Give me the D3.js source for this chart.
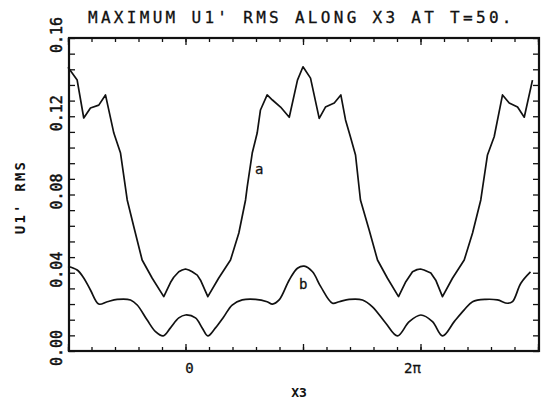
<!DOCTYPE html>
<html>
<head>
<meta charset="utf-8">
<script src="https://cdn.jsdelivr.net/npm/d3@7"></script>
<style>
  html, body { margin: 0; padding: 0; background: #fff; }
  svg { display: block; }
  text { font-family: "DejaVu Sans Mono", "Liberation Mono", monospace; fill: #111; }
</style>
</head>
<body>
<svg id="chart" width="544" height="405"></svg>
<script>
// x in units of pi
const xA = [-1.0, -0.922, -0.866, -0.809, -0.738, -0.681, -0.610, -0.553, -0.496, -0.440, -0.369, -0.283, -0.185, -0.128, -0.100, -0.057, -0.028, 0.0, 0.028, 0.057, 0.100, 0.128, 0.190, 0.283, 0.383, 0.454, 0.511, 0.525, 0.568, 0.610, 0.638, 0.695, 0.740, 0.809, 0.883, 0.953, 1.0, 1.064, 1.138, 1.191, 1.266, 1.322, 1.362, 1.404, 1.447, 1.489, 1.563, 1.634, 1.719, 1.813, 1.875, 1.932, 1.970, 2.0, 2.030, 2.088, 2.130, 2.187, 2.272, 2.372, 2.443, 2.513, 2.570, 2.627, 2.698, 2.755, 2.826, 2.883, 2.953];
const yA = [0.1450, 0.1385, 0.1191, 0.1242, 0.1257, 0.1309, 0.1114, 0.1012, 0.0772, 0.0635, 0.0465, 0.0372, 0.0278, 0.0350, 0.0377, 0.0405, 0.0414, 0.0419, 0.0414, 0.0405, 0.0388, 0.0362, 0.0278, 0.0373, 0.0465, 0.0603, 0.0772, 0.0838, 0.1012, 0.1114, 0.1232, 0.1309, 0.1283, 0.1247, 0.1195, 0.1385, 0.1453, 0.1395, 0.1189, 0.1247, 0.1268, 0.1309, 0.1181, 0.1094, 0.1002, 0.0772, 0.0619, 0.0465, 0.0372, 0.0278, 0.0354, 0.0405, 0.0416, 0.0419, 0.0414, 0.0399, 0.0362, 0.0278, 0.0372, 0.0465, 0.0603, 0.0772, 0.1002, 0.1095, 0.1309, 0.1268, 0.1247, 0.1195, 0.1385];

const xB = [-1.0, -0.922, -0.866, -0.809, -0.738, -0.666, -0.581, -0.468, -0.411, -0.326, -0.255, -0.190, -0.128, -0.057, 0.0, 0.085, 0.142, 0.190, 0.255, 0.326, 0.397, 0.483, 0.596, 0.695, 0.740, 0.797, 0.883, 0.953, 1.010, 1.081, 1.151, 1.251, 1.308, 1.393, 1.506, 1.591, 1.705, 1.804, 1.904, 2.003, 2.102, 2.187, 2.287, 2.372, 2.443, 2.556, 2.655, 2.740, 2.783, 2.854, 2.936];
const yB = [0.0432, 0.0414, 0.0373, 0.0312, 0.0240, 0.0252, 0.0264, 0.0261, 0.0235, 0.0158, 0.0099, 0.0077, 0.0118, 0.0169, 0.0184, 0.0169, 0.0118, 0.0077, 0.0118, 0.0175, 0.0235, 0.0261, 0.0264, 0.0252, 0.0240, 0.0261, 0.0363, 0.0423, 0.0434, 0.0405, 0.0329, 0.0244, 0.0252, 0.0264, 0.0261, 0.0226, 0.0142, 0.0077, 0.0150, 0.0184, 0.0150, 0.0077, 0.0150, 0.0210, 0.0252, 0.0264, 0.0261, 0.0244, 0.0252, 0.0346, 0.0404];

const yTickLabels = ["0.00", "0.04", "0.08", "0.12", "0.16"];
const yTickValues = [0, 0.04, 0.08, 0.12, 0.16];
const xTickLabels = ["0", "2\u03c0"];
const xTickValues = [0, 2];
const titleText = "MAXIMUM U1' RMS ALONG X3 AT T=50.";
const xTitle = "X3";
const yTitle = "U1' RMS";

const svg = d3.select("#chart");
const L = 69, R = 539, T = 38, B = 351;
const x = d3.scaleLinear().domain([-1, 3]).range([68, 538]);
const y = d3.scaleLinear().domain([0, 0.16]).range([B, T]);

const xMinor = d3.range(0, 21).map(i => -1 + i * 0.2);
const xMajor = [-1, 0, 1, 2, 3];
const yMinor = d3.range(0, 21).map(i => i * 0.008);

function clean(g) { g.select(".domain").remove(); g.selectAll("line").attr("stroke", "#111").attr("stroke-width", 1.3); }

svg.append("g").attr("transform", `translate(0,${B})`)
  .call(d3.axisBottom(x).tickValues(xMinor).tickSizeInner(-4).tickSizeOuter(0).tickFormat("")).call(clean);
svg.append("g").attr("transform", `translate(0,${B})`)
  .call(d3.axisBottom(x).tickValues(xMajor).tickSizeInner(-7).tickSizeOuter(0).tickFormat("")).call(clean);
svg.append("g").attr("transform", `translate(0,${T})`)
  .call(d3.axisTop(x).tickValues(xMinor).tickSizeInner(-4).tickSizeOuter(0).tickFormat("")).call(clean);
svg.append("g").attr("transform", `translate(0,${T})`)
  .call(d3.axisTop(x).tickValues(xMajor).tickSizeInner(-7).tickSizeOuter(0).tickFormat("")).call(clean);
svg.append("g").attr("transform", `translate(${L},0)`)
  .call(d3.axisLeft(y).tickValues(yMinor).tickSizeInner(-6).tickSizeOuter(0).tickFormat("")).call(clean);
svg.append("g").attr("transform", `translate(${R},0)`)
  .call(d3.axisRight(y).tickValues(yMinor).tickSizeInner(-6).tickSizeOuter(0).tickFormat("")).call(clean);

svg.append("rect").attr("x", L).attr("y", T).attr("width", R - L).attr("height", B - T)
  .attr("fill", "none").attr("stroke", "#111").attr("stroke-width", 2.2);

const lineA = d3.line().x((d, i) => x(xA[i])).y((d, i) => y(yA[i])).curve(d3.curveLinear);
const lineB = d3.line().x((d, i) => x(xB[i])).y((d, i) => y(yB[i])).curve(d3.curveCatmullRom.alpha(0.5));

svg.append("path").attr("d", lineA(yA)).attr("fill", "none").attr("stroke", "#111").attr("stroke-width", 1.7).attr("stroke-linejoin", "round");
svg.append("path").attr("d", lineB(yB)).attr("fill", "none").attr("stroke", "#111").attr("stroke-width", 1.7).attr("stroke-linejoin", "round");

// curve labels
svg.append("text").attr("x", 255).attr("y", 174).attr("font-size", 14).attr("stroke", "#111").attr("stroke-width", 0.3).text("a");
svg.append("text").attr("x", 299).attr("y", 289).attr("font-size", 14).attr("stroke", "#111").attr("stroke-width", 0.3).text("b");

// y tick labels (rotated)
yTickValues.forEach((v, i) => {
  svg.append("text").attr("transform", `translate(62,${y(v) - 3}) rotate(-90)`)
    .attr("text-anchor", "middle").attr("font-size", 15)
    .attr("stroke", "#111").attr("stroke-width", 0.5).text(yTickLabels[i]);
});
// x tick labels
xTickValues.forEach((v, i) => {
  svg.append("text").attr("x", x(v) + (i === 0 ? 4 : -8)).attr("y", 373)
    .attr("text-anchor", "middle").attr("font-size", 14)
    .attr("stroke", "#111").attr("stroke-width", 0.3).text(xTickLabels[i]);
});

svg.append("text").attr("x", 88).attr("y", 23).attr("font-size", 16)
  .attr("letter-spacing", 3.3).attr("stroke", "#111").attr("stroke-width", 0.3).text(titleText);
svg.append("text").attr("x", 299).attr("y", 397).attr("text-anchor", "middle")
  .attr("font-size", 13).attr("font-weight", "bold").text(xTitle);
svg.append("text").attr("transform", `translate(25,197) rotate(-90)`).attr("text-anchor", "middle")
  .attr("font-size", 14).attr("font-weight", "bold").attr("letter-spacing", 2.2).text(yTitle);
</script>
</body>
</html>
